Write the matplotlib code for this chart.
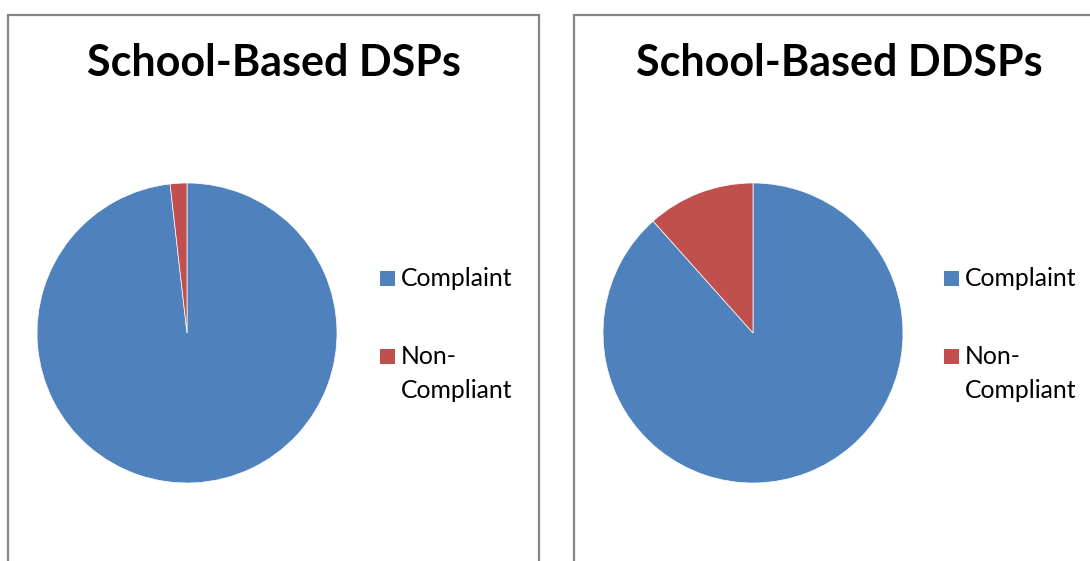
import matplotlib.pyplot as plt
from matplotlib.patches import Rectangle

# data
labels = ['Complaint', 'Non-\nCompliant']
dsps_share = [98.2, 1.8]
ddsps_share = [88.4, 11.6]
titles = ['School-Based DSPs', 'School-Based DDSPs']
colors = ['#4F81BD', '#C0504D']

W, H = 1090, 561
fig = plt.figure(figsize=(W/100, H/100), dpi=100)

def fx(x):
    return x/W

def fy(y):
    return 1-y/H

# chart frames
for x0, x1 in [(8, 539), (574, 1105)]:
    fig.patches.append(Rectangle((fx(x0), -0.05), (x1-x0)/W, 1.05-15/H,
                                 transform=fig.transFigure, fill=False,
                                 ec='#868686', lw=1.6))

panels = [(37, 273.5, dsps_share, 380), (603, 839.5, ddsps_share, 944)]
for (pie_x, cx, vals, leg_x), title in zip(panels, titles):
    ax = fig.add_axes([fx(pie_x), fy(483), 300/W, 300/H])
    ax.pie(vals, colors=colors, startangle=90, counterclock=False,
           wedgeprops=dict(edgecolor='white', linewidth=0.5))
    ax.set_xlim(-1, 1)
    ax.set_ylim(-1, 1)
    ax.set_aspect('equal')
    fig.text(fx(cx), fy(76.5), title, ha='center', va='baseline',
             fontsize=31, fontweight='bold', family='Lato')

    # legend: square marker + label lines
    base_y = [285.5, 364]
    for c, lab, by in zip(colors, labels, base_y):
        fig.patches.append(Rectangle((fx(leg_x), fy(by)), 15/W, 15/H,
                                     transform=fig.transFigure, fc=c, ec='none'))
        for k, line in enumerate(lab.split('\n')):
            fig.text(fx(leg_x+21), fy(by+34*k), line, ha='left', va='baseline',
                     fontsize=17.8, family='Lato')

fig.savefig('out.png', dpi=100)
